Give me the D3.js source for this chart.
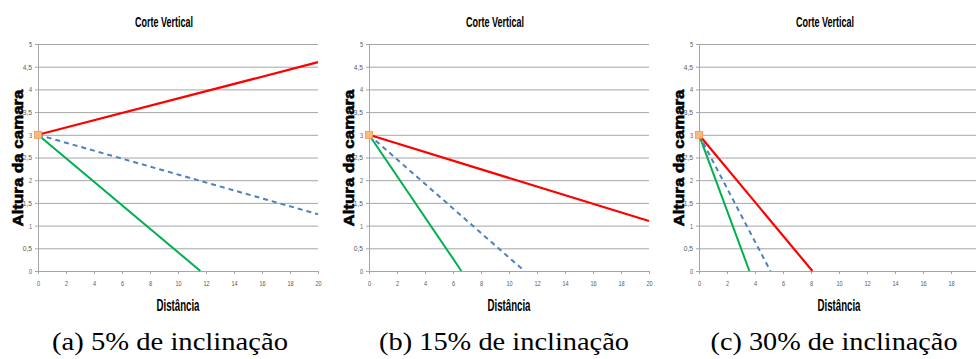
<!DOCTYPE html>
<html>
<head>
<meta charset="utf-8">
<script src="https://cdn.jsdelivr.net/npm/d3@7"></script>
<style>
  body { margin: 0; background: #fff; }
  svg { display: block; }
</style>
</head>
<body>
<div id="myChart"></div>
<script>
// data
let captions = ["(a) 5% de inclinação", "(b) 15% de inclinação", "(c) 30% de inclinação"];
let xTicks = [0, 2, 4, 6, 8, 10, 12, 14, 16, 18, 20];
let yTicks = [0, 0.5, 1, 1.5, 2, 2.5, 3, 3.5, 4, 4.5, 5];
let origin = [0, 3];
let redLine   = [[[0, 3], [20, 4.6]], [[0, 3], [20, 1.1]], [[0, 3], [8.1, 0]]];
let blueLine  = [[[0, 3], [20, 1.25]], [[0, 3], [11.1, 0]], [[0, 3], [5.1, 0]]];
let greenLine = [[[0, 3], [11.6, 0]], [[0, 3], [6.6, 0]], [[0, 3], [3.6, 0]]];

let W = 976, H = 359;
let panelLeft = [38, 369, 699],
    captionX = [170, 504, 834],
    captionW = [236, 250, 247],
    plotW = 280,
    plotTop = 44, plotBottom = 271;

let svg = d3.select("#myChart").append("svg")
  .attr("width", W)
  .attr("height", H);

let sans = "'Liberation Sans', Arial, sans-serif";
let fmt = v => d3.format("")(v).replace(".", ",");

// squeeze tick labels like the narrow font of the original
function styleTicks(a) {
  a.select(".domain").attr("stroke", "#a6a6a6");
  a.selectAll("line").attr("stroke", "#a6a6a6");
  a.selectAll("text").attr("fill", "#595959")
    .style("font-family", sans).style("font-size", "7.5px")
    .attr("textLength", function () { return this.textContent.length * 3.1; })
    .attr("lengthAdjust", "spacingAndGlyphs");
}

captions.forEach((cap, i) => {
  let x = d3.scaleLinear().domain([0, 20]).range([0, plotW]);
  let y = d3.scaleLinear().domain([0, 5]).range([plotBottom - plotTop, 0]);
  let g = svg.append("g")
    .attr("transform", "translate(" + panelLeft[i] + "," + plotTop + ")");

  // horizontal gridlines
  g.append("g")
    .call(d3.axisLeft(y).tickValues(yTicks).tickSize(-plotW).tickFormat(""))
    .call(a => a.select(".domain").remove())
    .call(a => a.selectAll("line").attr("stroke", "#a6a6a6"));

  // y axis
  g.append("g")
    .call(d3.axisLeft(y).tickValues(yTicks).tickSize(3).tickPadding(3).tickFormat(fmt))
    .call(styleTicks);

  // x axis (labels past the right edge of the page are not shown)
  g.append("g")
    .attr("transform", "translate(0," + (plotBottom - plotTop) + ")")
    .call(d3.axisBottom(x).tickValues(xTicks).tickSize(3).tickPadding(7)
      .tickFormat(t => panelLeft[i] + x(t) + 4 < W ? fmt(t) : ""))
    .call(styleTicks);

  let line = d3.line().x(d => x(d[0])).y(d => y(d[1]));

  g.append("path").datum(greenLine[i])
    .attr("d", line).attr("fill", "none")
    .attr("stroke", "#00b050").attr("stroke-width", 2);
  g.append("path").datum(blueLine[i])
    .attr("d", line).attr("fill", "none")
    .attr("stroke", "#4f81bd").attr("stroke-width", 2)
    .attr("stroke-dasharray", "5,4");
  g.append("path").datum(redLine[i])
    .attr("d", line).attr("fill", "none")
    .attr("stroke", "#ff0000").attr("stroke-width", 2.2);

  // start point marker
  g.append("rect")
    .attr("x", x(origin[0]) - 3.5).attr("y", y(origin[1]) - 3.5)
    .attr("width", 7).attr("height", 7)
    .attr("fill", "#fbb880").attr("stroke", "#f79646").attr("stroke-width", 0.8);

  // title
  g.append("text")
    .attr("x", 126).attr("y", 27 - plotTop)
    .attr("text-anchor", "middle")
    .attr("textLength", 58).attr("lengthAdjust", "spacingAndGlyphs")
    .style("font-family", sans).style("font-weight", "bold").style("font-size", "14.5px")
    .text("Corte Vertical");

  // x label
  g.append("text")
    .attr("x", plotW / 2).attr("y", 311 - plotTop)
    .attr("text-anchor", "middle")
    .attr("textLength", 43).attr("lengthAdjust", "spacingAndGlyphs")
    .style("font-family", sans).style("font-weight", "bold").style("font-size", "17px")
    .text("Distância");

  // y label
  g.append("text")
    .attr("transform", "translate(" + (-15) + "," + (158 - plotTop) + ") rotate(-90)")
    .attr("text-anchor", "middle")
    .attr("textLength", 137).attr("lengthAdjust", "spacingAndGlyphs")
    .attr("stroke", "#000").attr("stroke-width", 0.6)
    .style("font-family", sans)
    .style("font-weight", "bold").style("font-size", "14.5px")
    .text("Altura da camara");

  // caption
  svg.append("text")
    .attr("x", captionX[i]).attr("y", 350)
    .attr("text-anchor", "middle")
    .attr("textLength", captionW[i]).attr("lengthAdjust", "spacingAndGlyphs")
    .style("font-family", "'Liberation Serif', 'DejaVu Serif', serif")
    .style("font-size", "25px")
    .text(cap);
});
</script>
</body>
</html>
